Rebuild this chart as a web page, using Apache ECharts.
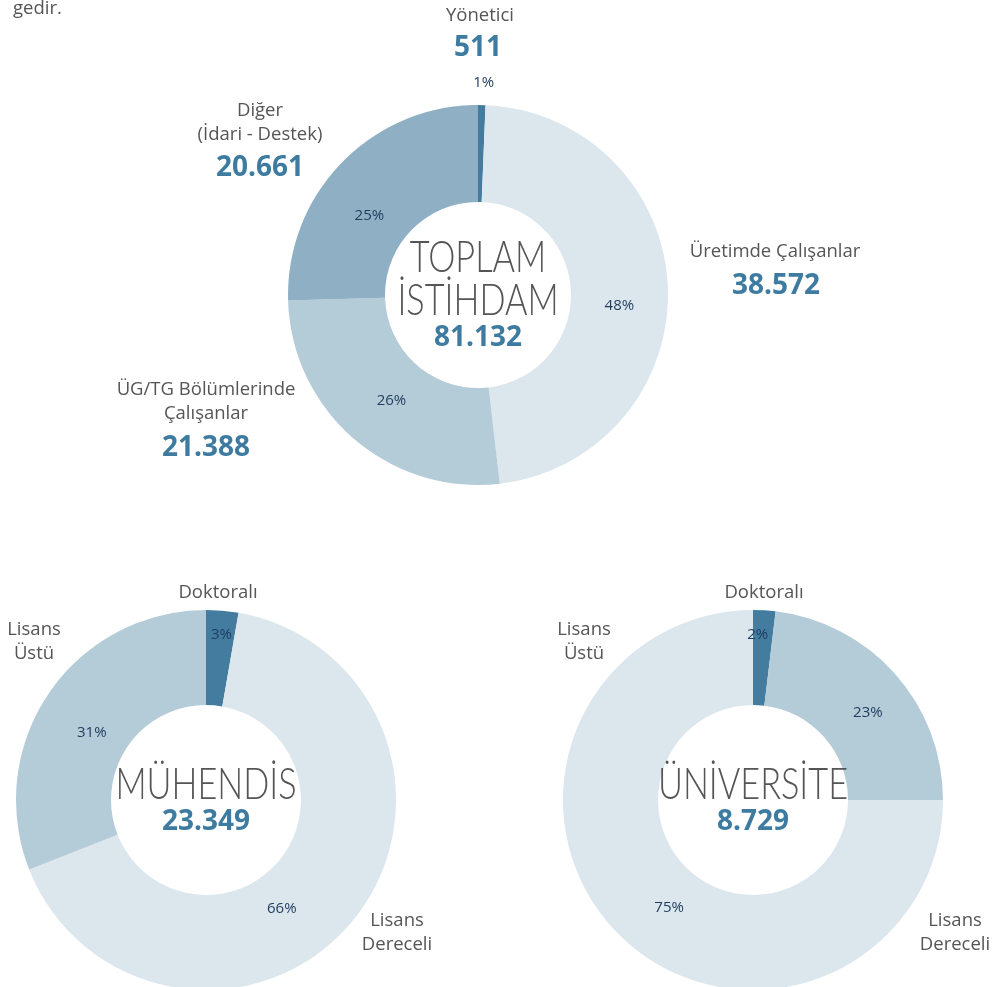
<!DOCTYPE html>
<html>
<head>
<meta charset="utf-8">
<script src="https://cdn.jsdelivr.net/npm/echarts@6/dist/echarts.min.js"></script>
<style>
  html, body { margin: 0; padding: 0; background: #fff; }
  #chart { width: 997px; height: 987px; }
</style>
</head>
<body>
<div id="chart"></div>
<script>
// toplam istihdam
const staffNames = ['Yönetici', 'Üretimde Çalışanlar', 'ÜG/TG Bölümlerinde\nÇalışanlar', 'Diğer\n(İdari - Destek)'];
const staffValues = [511, 38572, 21388, 20661];

// mühendis (değerler yüzdelerden tahmin)
const engNames = ['Doktoralı', 'Lisans Dereceli', 'Lisans Üstü'];
const engValues = [640, 15479, 7230];

// üniversite
const uniNames = ['Doktoralı', 'Lisans Üstü', 'Lisans Dereceli'];
const uniValues = [166, 2016, 6547];

const DARK = '#437c9e', LIGHT = '#dbe6ed', MID = '#b4cbd8', MID2 = '#8fb0c4';
const staffColors = [DARK, LIGHT, MID, MID2];
const engColors = [DARK, LIGHT, MID];
const uniColors = [DARK, MID, LIGHT];

// yüzde etiketlerinin küçük kaydırmaları
const staffNudge = [[-14, 0], [-3, 16], [8, -4], [-5, 21]];
const engNudge = [[3, -20], [-37, 17], [6, 15]];
const uniNudge = [[-4, -20], [6, 9], [19, 5]];

const FONT = '"Open Sans", "Noto Sans", sans-serif';
const THIN = 'Lato, "Open Sans", sans-serif';
const GREY = '#555555';
const BLUE = '#3d7ba0';

const fmt = n => String(n).replace(/\B(?=(\d{3})+(?!\d))/g, '.');
const sum = arr => arr.reduce((a, b) => a + b, 0);

const chart = echarts.init(document.getElementById('chart'));

function pieSeries(center, radius, names, values, colors, nudge, outsideIdx) {
  return {
    type: 'pie',
    center: center,
    radius: radius,
    startAngle: 90,
    clockwise: true,
    silent: true,
    avoidLabelOverlap: false,
    itemStyle: { borderWidth: 0 },
    label: {
      show: true,
      position: 'inside',
      color: '#1f3b5e',
      fontFamily: FONT,
      fontSize: 15,
      formatter: p => Math.round(p.percent) + '%'
    },
    labelLine: { show: false },
    labelLayout: p => ({ dx: nudge[p.dataIndex][0], dy: nudge[p.dataIndex][1] }),
    data: values.map((v, i) => {
      const d = { name: names[i], value: v, itemStyle: { color: colors[i] } };
      if (i === outsideIdx) {
        d.label = { position: 'outside' };
        d.labelLine = { show: false, length: 22, length2: 0 };
      }
      return d;
    })
  };
}

function text(x, y, str, size, color, weight, lh, align, family, sx) {
  return {
    type: 'text',
    x: x,
    y: y - lh / 2,
    z: 10,
    scaleX: sx || 1,
    silent: true,
    style: {
      text: str,
      fill: color,
      font: (weight || 'normal') + ' ' + size + 'px ' + (family || FONT),
      lineHeight: lh,
      align: align || 'center',
      verticalAlign: 'top'
    }
  };
}

const cat = (x, y, str) => text(x, y, str, 18.5, GREY, 'normal', 24);
const num = (x, y, n) => text(x, y, fmt(n), 28, BLUE, 'bold', 32);
const big = (x, y, str) => text(x, y, str, 44, '#555555', '300', 43, 'center', THIN, 0.78);

const graphics = [
  text(13, 9, 'gedir.', 18.5, GREY, 'normal', 20, 'left'),
  // toplam
  cat(480, 16, staffNames[0]), num(478, 48, staffValues[0]),
  cat(775, 252, staffNames[1]), num(776, 286, staffValues[1]),
  cat(206, 390, staffNames[2]), num(206, 448, staffValues[2]),
  cat(260, 111, staffNames[3]), num(260, 168, staffValues[3]),
  big(478, 258, 'TOPLAM\nİSTİHDAM'), num(478, 338, sum(staffValues)),
  // mühendis
  cat(218, 593, engNames[0]),
  cat(34, 630, engNames[2].replace(' ', '\n')),
  cat(397, 921, engNames[1].replace(' ', '\n')),
  big(206, 785, 'MÜHENDİS'), num(206, 822, sum(engValues)),
  // üniversite
  cat(764, 593, uniNames[0]),
  cat(584, 630, uniNames[1].replace(' ', '\n')),
  cat(955, 921, uniNames[2].replace(' ', '\n')),
  big(753, 785, 'ÜNİVERSİTE'), num(753, 822, sum(uniValues))
];

chart.setOption({
  backgroundColor: '#ffffff',
  animation: false,
  series: [
    pieSeries([478, 295], [93, 190], staffNames, staffValues, staffColors, staffNudge, 0),
    pieSeries([206, 800], [95, 190], engNames, engValues, engColors, engNudge, -1),
    pieSeries([753, 800], [95, 190], uniNames, uniValues, uniColors, uniNudge, -1)
  ],
  graphic: graphics
});
</script>
</body>
</html>
